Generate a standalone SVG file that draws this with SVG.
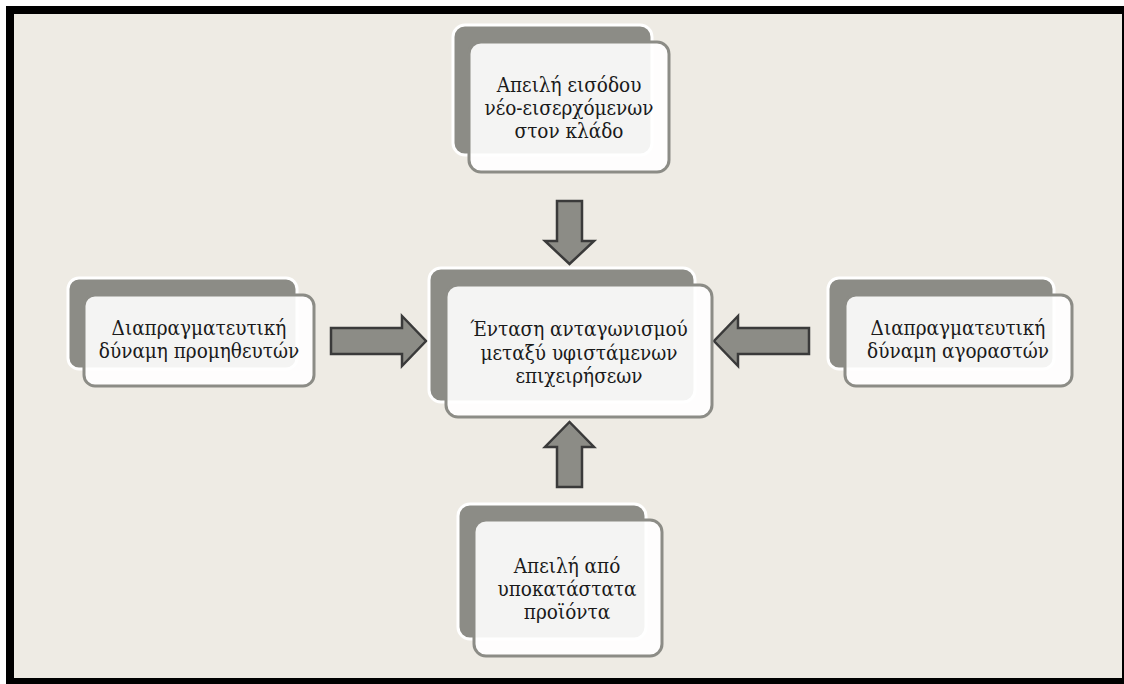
<svg xmlns="http://www.w3.org/2000/svg" width="1124" height="684" viewBox="0 0 1124 684">
<style>
.back{fill:#8c8c86;stroke:#ffffff;stroke-width:3}
.front{fill:#ffffff;fill-opacity:0.9;stroke:#8c8c86;stroke-width:3}
.t{font-family:"DejaVu Serif Condensed","DejaVu Serif","Liberation Serif",serif;font-stretch:condensed;font-size:20.5px;fill:#1a1a1a;text-anchor:middle}
.arr{fill:#8c8c86;stroke:#3a3a3a;stroke-width:2.5;stroke-linejoin:miter}
</style>
<rect x="0" y="0" width="1124" height="684" fill="#ffffff"/>
<rect x="6" y="6" width="1118" height="678" fill="#000000"/>
<rect x="14" y="14" width="1108" height="664" fill="#eeebe4"/>

<g id="connectors">
<path class="arr" d="M557,201 H582 V241 H594 L569.5,264 L545,241 H557 Z"/>
<path class="arr" d="M557,487 H582 V447 H594 L569.5,422 L545,447 H557 Z"/>
<path class="arr" d="M331,328 V354 H402 V366 L426,341 L402,316 V328 Z"/>
<path class="arr" d="M809,328 V354 H738 V366 L714,341 L738,316 V328 Z"/>
</g>

<g id="top">
<rect class="back" x="453" y="25" width="199" height="130" rx="12"/>
<rect class="front" x="469" y="42" width="200" height="130" rx="12"/>
<text class="t" x="569" y="92">Απειλή εισόδου</text>
<text class="t" x="569" y="115">νέο-εισερχόμενων</text>
<text class="t" x="569" y="138">στον κλάδο</text>
</g>

<g id="center">
<rect class="back" x="429" y="268" width="266" height="134" rx="12"/>
<rect class="front" x="446" y="285" width="266" height="132" rx="12"/>
<text class="t" x="579" y="336">Ένταση ανταγωνισμού</text>
<text class="t" x="579" y="360">μεταξύ υφιστάμενων</text>
<text class="t" x="579" y="383">επιχειρήσεων</text>
</g>

<g id="left">
<rect class="back" x="68" y="278" width="229" height="91" rx="11"/>
<rect class="front" x="84" y="295" width="230" height="91" rx="11"/>
<text class="t" x="199" y="335">Διαπραγματευτική</text>
<text class="t" x="199" y="358">δύναμη προμηθευτών</text>
</g>

<g id="right">
<rect class="back" x="828" y="278" width="226" height="91" rx="11"/>
<rect class="front" x="845" y="295" width="227" height="91" rx="11"/>
<text class="t" x="958" y="335">Διαπραγματευτική</text>
<text class="t" x="958" y="358">δύναμη αγοραστών</text>
</g>

<g id="bottom">
<rect class="back" x="458" y="504" width="188" height="135" rx="12"/>
<rect class="front" x="474" y="520" width="188" height="136" rx="12"/>
<text class="t" x="567" y="573">Απειλή από</text>
<text class="t" x="567" y="596">υποκατάστατα</text>
<text class="t" x="567" y="619">προϊόντα</text>
</g>
</svg>
